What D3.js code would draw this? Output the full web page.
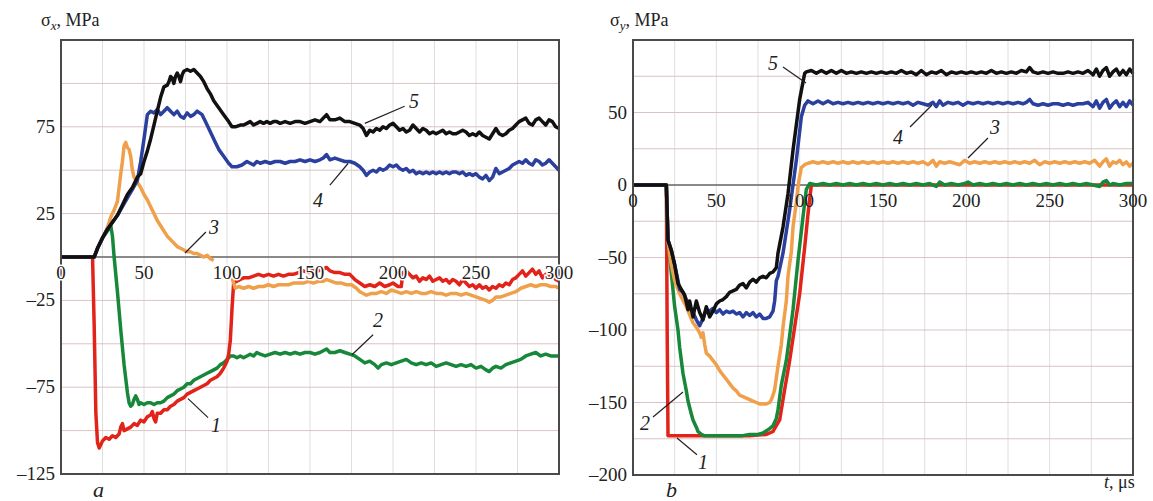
<!DOCTYPE html>
<meta charset="utf-8">
<html>
<script src="https://d3js.org/d3.v7.min.js"></script>
<style>
  body { margin: 0; background: #fff; }
</style>
<body>
<svg id="chart" width="1153" height="501" font-family="'Liberation Serif', 'Times New Roman', serif"></svg>
<script>

// ---------- data: [t (us), stress (MPa)] ----------
var tTicks = [0, 50, 100, 150, 200, 250, 300];
var yTicksA = [75, 25, -25, -75, -125];
var yTicksB = [50, 0, -50, -100, -150, -200];

// panel a : sigma_x
var a1 = [[0,0],[19,0],[20,-40],[21,-90],[22,-107],[23,-110],[25,-106],[27,-104],[29,-105],[31,-103],[33,-104],[35,-102],[36,-98],[37,-96],[38,-100],[40,-99],[42,-98],[44,-96],[46,-97],[48,-94],[50,-95],[52,-92],[54,-91],[55,-89],[56,-93],[57,-95],[58,-90],[60,-90],[62,-88],[64,-88],[66,-86],[68,-85],[70,-83],[72,-82],[74,-81],[76,-79],[78,-78],[80,-77],[82,-76],[84,-75],[86,-74],[88,-73],[90,-71],[92,-70],[94,-69],[96,-67],[98,-64],[100,-60],[101,-56],[102,-48],[103,-30],[104,-15],[106,-14],[108,-13],[110,-12],[113,-12],[116,-11],[119,-10],[122,-11],[125,-10],[128,-11],[131,-10],[134,-11],[137,-10],[140,-10],[143,-9],[146,-8],[149,-9],[152,-7],[155,-8],[158,-7],[160,-6],[162,-8],[165,-9],[168,-9],[171,-10],[174,-10],[177,-13],[180,-15],[183,-17],[186,-16],[189,-17],[192,-15],[195,-17],[198,-16],[200,-15],[203,-17],[205,-17],[206,-9],[208,-8],[210,-10],[212,-12],[214,-11],[216,-14],[218,-12],[220,-13],[222,-11],[224,-14],[226,-13],[228,-12],[230,-14],[232,-13],[234,-15],[236,-13],[238,-14],[240,-16],[242,-13],[244,-15],[246,-17],[248,-16],[250,-18],[252,-16],[254,-18],[256,-17],[258,-19],[260,-17],[262,-18],[264,-16],[266,-17],[268,-15],[270,-16],[272,-13],[274,-12],[276,-10],[278,-8],[280,-11],[282,-9],[284,-7],[286,-10],[288,-8],[290,-12],[292,-10],[294,-12],[296,-9],[298,-13],[300,-14]];
var a2 = [[0,0],[20,0],[22,5],[25,11],[28,15],[30,18],[31,12],[32,0],[34,-20],[36,-42],[38,-62],[40,-78],[41,-84],[42,-86],[43,-85],[44,-82],[45,-80],[46,-82],[47,-85],[48,-84],[50,-85],[52,-84],[54,-84],[56,-85],[58,-84],[60,-84],[62,-83],[64,-81],[66,-80],[68,-79],[70,-77],[72,-76],[74,-75],[76,-73],[78,-73],[80,-71],[82,-70],[84,-69],[86,-68],[88,-67],[90,-66],[92,-65],[94,-64],[96,-62],[98,-61],[100,-59],[102,-57],[104,-57],[106,-58],[108,-57],[110,-58],[112,-57],[114,-56],[116,-57],[118,-55],[120,-56],[123,-57],[126,-56],[129,-55],[132,-56],[135,-55],[138,-56],[141,-55],[144,-56],[147,-55],[150,-55],[153,-56],[156,-55],[158,-54],[160,-53],[162,-55],[165,-55],[168,-54],[171,-55],[174,-56],[177,-57],[180,-59],[183,-61],[186,-60],[189,-62],[191,-64],[193,-62],[196,-61],[199,-62],[202,-61],[205,-60],[208,-59],[211,-61],[214,-62],[217,-61],[220,-62],[223,-61],[226,-63],[229,-62],[232,-61],[235,-62],[238,-63],[241,-62],[244,-63],[247,-62],[250,-64],[253,-63],[256,-65],[258,-66],[260,-64],[262,-63],[265,-64],[268,-62],[271,-61],[274,-60],[277,-59],[280,-57],[283,-56],[286,-55],[289,-57],[292,-56],[295,-57],[298,-57],[300,-57]];
var a3 = [[0,0],[20,0],[22,5],[25,11],[28,17],[30,23],[32,27],[34,32],[35,40],[36,48],[37,55],[38,64],[39,66],[40,63],[41,62],[42,58],[43,50],[44,46],[46,43],[48,40],[50,36],[52,33],[54,29],[56,25],[58,21],[60,18],[62,15],[64,12],[66,10],[68,8],[70,6],[72,5],[74,4],[76,3],[78,3],[80,2],[82,2],[84,1],[86,0],[88,1],[90,-1],[92,-2],null,[103,-12],[105,-18],[107,-17],[110,-18],[113,-17],[116,-18],[119,-17],[122,-17],[125,-16],[128,-17],[131,-16],[134,-16],[137,-16],[140,-15],[143,-15],[146,-15],[149,-14],[152,-15],[155,-14],[158,-14],[160,-13],[163,-14],[166,-15],[169,-15],[172,-16],[175,-16],[178,-18],[180,-20],[182,-21],[184,-22],[187,-21],[190,-21],[193,-20],[196,-21],[199,-19],[202,-20],[205,-21],[208,-20],[211,-21],[214,-20],[217,-21],[220,-21],[223,-20],[226,-21],[229,-21],[232,-22],[235,-21],[238,-21],[241,-22],[244,-21],[247,-22],[250,-23],[253,-24],[256,-25],[258,-26],[260,-25],[262,-23],[265,-23],[268,-22],[271,-21],[274,-20],[277,-18],[280,-17],[283,-16],[286,-17],[289,-16],[292,-16],[295,-17],[298,-17],[300,-18]];
var a4 = [[0,0],[20,0],[22,5],[25,11],[28,16],[31,20],[34,24],[37,29],[40,34],[43,39],[46,44],[48,55],[50,68],[52,82],[54,84],[56,83],[58,85],[60,82],[62,84],[64,86],[66,84],[68,82],[70,84],[72,81],[74,80],[76,83],[78,81],[80,82],[82,84],[85,82],[87,78],[89,74],[91,70],[93,66],[95,62],[98,58],[101,54],[103,52],[106,52],[109,53],[112,55],[114,54],[116,53],[118,55],[120,54],[123,55],[126,54],[129,55],[132,55],[135,54],[138,55],[141,55],[144,56],[147,55],[150,56],[153,55],[156,56],[158,57],[160,59],[162,56],[165,57],[168,56],[171,55],[174,55],[177,54],[180,52],[182,50],[184,47],[186,49],[188,50],[190,49],[192,51],[194,50],[196,51],[198,53],[200,52],[202,53],[204,51],[206,50],[208,51],[210,49],[212,50],[214,48],[216,49],[218,48],[220,49],[222,48],[224,49],[226,48],[228,49],[230,48],[232,49],[234,48],[236,49],[238,49],[240,48],[242,49],[244,47],[246,48],[248,47],[250,48],[252,46],[254,45],[256,47],[258,44],[260,46],[262,51],[264,48],[266,49],[268,50],[270,51],[272,53],[274,54],[276,55],[278,54],[280,56],[282,54],[284,53],[286,56],[288,55],[290,53],[292,54],[294,56],[296,54],[298,52],[300,50]];
var a5 = [[0,0],[20,0],[22,5],[25,11],[28,16],[31,20],[34,24],[37,30],[40,36],[43,40],[46,46],[48,48],[50,55],[52,61],[54,68],[56,76],[58,84],[60,92],[62,98],[64,99],[65,101],[66,104],[67,103],[68,100],[69,104],[70,106],[71,104],[72,101],[73,105],[74,107],[76,108],[78,107],[80,108],[82,106],[84,104],[86,101],[88,97],[90,94],[92,90],[95,86],[98,82],[101,78],[103,75],[105,75],[108,76],[110,76],[112,77],[114,78],[116,76],[118,77],[120,78],[122,77],[124,78],[126,77],[128,78],[130,78],[132,77],[135,78],[138,77],[141,78],[144,78],[147,77],[150,78],[153,79],[156,78],[158,80],[160,82],[162,79],[165,79],[168,80],[171,78],[174,78],[177,77],[180,76],[182,74],[184,70],[186,73],[188,72],[190,74],[192,73],[194,75],[196,74],[198,76],[200,77],[202,75],[204,73],[206,74],[208,72],[210,73],[212,76],[214,74],[216,72],[218,74],[220,73],[222,71],[224,72],[226,71],[228,72],[230,73],[232,71],[234,72],[236,71],[238,71],[240,72],[242,73],[244,72],[246,70],[248,71],[250,70],[252,72],[254,70],[256,69],[258,68],[260,71],[262,74],[264,71],[266,70],[268,71],[270,73],[272,74],[274,76],[276,78],[278,79],[280,80],[282,77],[284,76],[286,79],[288,80],[290,78],[292,76],[294,79],[296,78],[298,75],[300,74]];

// panel b : sigma_y
var b1 = [[0,0],[20,0],[20.5,-100],[21,-173],[25,-173],[30,-173],[35,-173],[40,-173],[50,-173],[60,-173],[70,-173],[80,-172],[84,-170],[86,-166],[88,-162],[91,-141],[94,-121],[97,-98],[100,-75],[103,-43],[105,-20],[107,0],[150,0],[200,0],[250,0],[300,0]];
var b2 = [[0,0],[20,0],[21,-38],[23,-61],[25,-84],[27,-100],[28,-112],[30,-130],[32,-142],[33,-149],[35,-158],[36,-162],[38,-167],[39,-170],[41,-172],[43,-173],[46,-173],[50,-173],[55,-173],[60,-173],[65,-173],[70,-172],[75,-172],[78,-171],[82,-168],[84,-166],[86,-161],[87,-155],[89,-138],[92,-121],[94,-104],[96,-86],[99,-52],[102,-22],[104,-3],[106,1],[110,0],[114,1],[118,0],[122,1],[126,0],[130,1],[134,0],[138,1],[142,0],[146,1],[150,0],[154,1],[158,0],[162,1],[166,0],[170,1],[174,0],[178,1],[182,-1],[184,2],[187,0],[191,1],[195,0],[199,1],[201,2],[204,0],[208,1],[212,0],[216,1],[220,0],[224,1],[228,0],[232,1],[236,0],[240,1],[244,0],[248,1],[252,0],[256,1],[260,0],[264,1],[268,0],[272,1],[276,0],[280,-1],[282,2],[284,3],[286,0],[288,1],[292,0],[296,1],[300,1]];
var b3 = [[0,0],[20,0],[21,-38],[22,-48],[23,-55],[25,-66],[28,-75],[32,-84],[36,-95],[38,-98],[40,-102],[41,-105],[42,-102],[43,-110],[44,-116],[46,-118],[48,-121],[50,-124],[52,-128],[54,-131],[56,-134],[58,-137],[60,-140],[62,-142],[64,-145],[66,-146],[68,-147],[70,-148],[72,-149],[74,-150],[76,-151],[78,-151],[80,-151],[82,-150],[83,-148],[84,-145],[85,-141],[86,-133],[87,-125],[89,-110],[90,-98],[92,-80],[93,-63],[95,-46],[96,-29],[98,-12],[99,-1],[100,6],[101,12],[103,14],[105,15],[108,16],[111,15],[114,16],[117,15],[120,16],[123,15],[126,16],[129,15],[132,16],[135,15],[138,16],[141,15],[144,16],[147,15],[150,16],[153,15],[156,16],[159,15],[162,16],[165,15],[168,16],[171,15],[174,16],[177,14],[180,17],[182,13],[184,16],[187,15],[190,16],[193,15],[196,14],[199,17],[202,15],[205,16],[208,15],[211,16],[214,15],[217,16],[220,15],[223,16],[226,15],[229,16],[232,15],[235,16],[238,15],[241,17],[244,14],[247,16],[250,15],[253,16],[256,15],[259,16],[262,15],[265,16],[268,15],[271,16],[274,15],[277,17],[280,13],[282,16],[284,18],[286,13],[288,16],[290,15],[292,17],[294,14],[296,16],[298,13],[300,15]];
var b4 = [[0,0],[20,0],[21,-38],[23,-45],[25,-55],[27,-66],[28,-72],[30,-74],[32,-79],[34,-84],[36,-88],[38,-93],[40,-97],[42,-92],[44,-86],[46,-87],[48,-85],[50,-88],[52,-86],[54,-89],[56,-87],[58,-88],[60,-87],[62,-89],[64,-88],[66,-91],[68,-88],[70,-90],[72,-88],[74,-91],[76,-89],[78,-92],[80,-92],[82,-91],[84,-87],[85,-80],[86,-66],[87,-63],[90,-47],[94,-17],[98,17],[101,47],[103,55],[105,58],[108,56],[111,58],[114,56],[117,58],[120,56],[123,57],[126,56],[129,57],[132,56],[135,57],[138,56],[141,57],[144,56],[147,57],[150,56],[153,57],[156,56],[159,57],[162,56],[165,57],[168,55],[171,57],[174,56],[177,55],[180,57],[182,54],[184,58],[186,55],[189,57],[192,56],[195,57],[198,55],[201,57],[204,56],[207,57],[210,56],[213,57],[216,56],[219,57],[222,56],[225,57],[228,56],[231,57],[234,56],[236,57],[238,59],[240,56],[243,55],[246,56],[249,55],[252,56],[255,56],[258,55],[261,56],[264,55],[267,56],[270,56],[273,57],[276,54],[278,58],[280,53],[282,57],[284,59],[286,53],[288,56],[290,58],[292,54],[294,57],[296,54],[298,58],[300,55]];
var b5 = [[0,0],[20,0],[21,-38],[23,-45],[25,-55],[27,-68],[29,-72],[31,-76],[33,-86],[34,-80],[36,-91],[38,-80],[40,-88],[42,-93],[44,-84],[46,-91],[48,-87],[50,-82],[52,-80],[54,-79],[56,-77],[58,-74],[60,-73],[62,-72],[64,-69],[66,-68],[68,-71],[70,-67],[72,-65],[74,-67],[76,-64],[78,-63],[80,-64],[82,-61],[84,-60],[86,-57],[87,-47],[90,-29],[93,-6],[96,24],[100,59],[103,77],[104,78],[107,79],[110,77],[113,79],[116,77],[119,79],[122,77],[125,79],[128,77],[131,78],[134,77],[137,78],[140,77],[143,78],[146,77],[149,78],[152,77],[155,78],[158,77],[161,79],[164,77],[167,78],[170,76],[173,79],[176,76],[179,78],[182,77],[185,79],[188,76],[191,78],[194,77],[197,78],[200,77],[203,78],[206,77],[209,78],[212,77],[215,79],[218,77],[221,78],[224,77],[227,78],[230,77],[233,79],[236,78],[238,81],[240,78],[243,77],[246,78],[249,77],[252,78],[255,77],[258,77],[261,78],[264,77],[267,78],[270,77],[273,79],[276,76],[278,80],[280,75],[282,79],[284,81],[286,75],[288,78],[290,80],[292,76],[294,79],[296,76],[298,80],[300,77]];

// curve number labels: [name, textPos, leaderFrom, leaderTo] in data units
var notesA = [["5",[212.7,90],[207,86.8],[183,77]],["4",[154.8,32.8],[162,41.4],[173,54]],["3",[92.2,17.2],[87.3,14.4],[74.7,2.3]],["1",[93.4,-96.6],[88.6,-92.5],[76.5,-81.6]],["2",[191,-36.2],[188,-44.8],[175.3,-56.3]]];
var notesB = [["5",[84,84],[90,81.4],[103.8,70.3]],["4",[159,33],[166.2,40],[179.4,55.2]],["3",[217.2,40],[213,32.4],[201,18.6]],["2",[7.2,-164],[12,-160],[30,-142.8]],["1",[42,-191],[38.4,-186],[26.4,-174.5]]];

var colors = {1: "#e2231a", 2: "#17873a", 3: "#f0a04b", 4: "#2b3f9e", 5: "#111111"};

var svg = d3.select("#chart");

function drawPanel(opt) {
  var x = d3.scaleLinear().domain([0, 300]).range([opt.left, opt.right]);
  var y = d3.scaleLinear().domain(opt.ydom).range([opt.bottom, opt.top]);
  var g = svg.append("g");

  // grid every 25
  g.selectAll(".vg").data(d3.range(25, 300, 25)).enter().append("line")
    .attr("x1", d => x(d)).attr("x2", d => x(d))
    .attr("y1", opt.top).attr("y2", opt.bottom)
    .attr("stroke", "#dedede").attr("stroke-width", 1);
  g.selectAll(".hg").data(d3.range(opt.ydom[0] + 25, opt.ydom[1], 25)).enter().append("line")
    .attr("x1", opt.left).attr("x2", opt.right)
    .attr("y1", d => y(d)).attr("y2", d => y(d))
    .attr("stroke", "#d8c4c4").attr("stroke-width", 1);

  // zero axis
  g.append("line").attr("x1", opt.left).attr("x2", opt.right)
    .attr("y1", y(0)).attr("y2", y(0))
    .attr("stroke", "#6a6a6a").attr("stroke-width", 1.5);

  var line = d3.line().defined(d => d != null).x(d => x(d[0])).y(d => y(d[1]));
  opt.series.forEach(function (s) {
    g.append("path").datum(s.data)
      .attr("d", line)
      .attr("fill", "none")
      .attr("stroke", colors[s.id])
      .attr("stroke-width", 3.5)
      .attr("stroke-linejoin", "round");
  });

  // frame
  g.append("rect").attr("x", opt.left).attr("y", opt.top)
    .attr("width", opt.right - opt.left).attr("height", opt.bottom - opt.top)
    .attr("fill", "none").attr("stroke", "#4a4a4a").attr("stroke-width", 2);

  // tick labels
  g.selectAll(".xt").data(tTicks).enter().append("text")
    .attr("x", d => x(d)).attr("y", y(0) + 22)
    .attr("text-anchor", "middle").attr("font-size", 19).attr("fill", "#222")
    .attr("stroke", opt.halo ? "#fff" : "none").attr("stroke-width", 3)
    .attr("paint-order", "stroke")
    .text(d => d);
  g.selectAll(".yt").data(opt.yticks).enter().append("text")
    .attr("x", opt.left - 6).attr("y", d => y(d) + 6)
    .attr("text-anchor", "end").attr("font-size", 19).attr("fill", "#222")
    .text(d => d < 0 ? "\u2013" + (-d) : d);

  // curve labels
  opt.notes.forEach(function (n) {
    g.append("line")
      .attr("x1", x(n[2][0])).attr("y1", y(n[2][1]))
      .attr("x2", x(n[3][0])).attr("y2", y(n[3][1]))
      .attr("stroke", "#222").attr("stroke-width", 1.2);
    g.append("text").attr("x", x(n[1][0])).attr("y", y(n[1][1]) + 7)
      .attr("text-anchor", "middle").attr("font-size", 20).attr("fill", "#222")
      .attr("font-style", "italic").text(n[0]);
  });

  // axis title
  var t = g.append("text").attr("x", opt.titleX).attr("y", 26).attr("font-size", 18).attr("fill", "#222");
  t.append("tspan").text("\u03c3");
  t.append("tspan").attr("font-style", "italic").attr("font-size", 13).attr("dy", 4).text(opt.sub);
  t.append("tspan").attr("dy", -4).text(", MPa");

  // panel letter
  g.append("text").attr("x", opt.letterX).attr("y", 497)
    .attr("font-size", 22).attr("font-style", "italic").attr("fill", "#222").text(opt.letter);
}

drawPanel({
  left: 61, right: 559, top: 40, bottom: 474, ydom: [-125, 125],
  yticks: yTicksA, halo: true, notes: notesA, sub: "x", titleX: 41,
  letter: "a", letterX: 93,
  series: [{id: 2, data: a2}, {id: 1, data: a1}, {id: 3, data: a3}, {id: 4, data: a4}, {id: 5, data: a5}]
});
drawPanel({
  left: 633, right: 1133, top: 40, bottom: 475, ydom: [-200, 100],
  yticks: yTicksB, halo: false, notes: notesB, sub: "y", titleX: 610,
  letter: "b", letterX: 666,
  series: [{id: 1, data: b1}, {id: 2, data: b2}, {id: 3, data: b3}, {id: 4, data: b4}, {id: 5, data: b5}]
});

// time axis title
var tt = svg.append("text").attr("x", 1104).attr("y", 488).attr("font-size", 18).attr("fill", "#222");
tt.append("tspan").attr("font-style", "italic").text("t");
tt.append("tspan").text(", \u03bcs");

</script>
</body>
</html>
